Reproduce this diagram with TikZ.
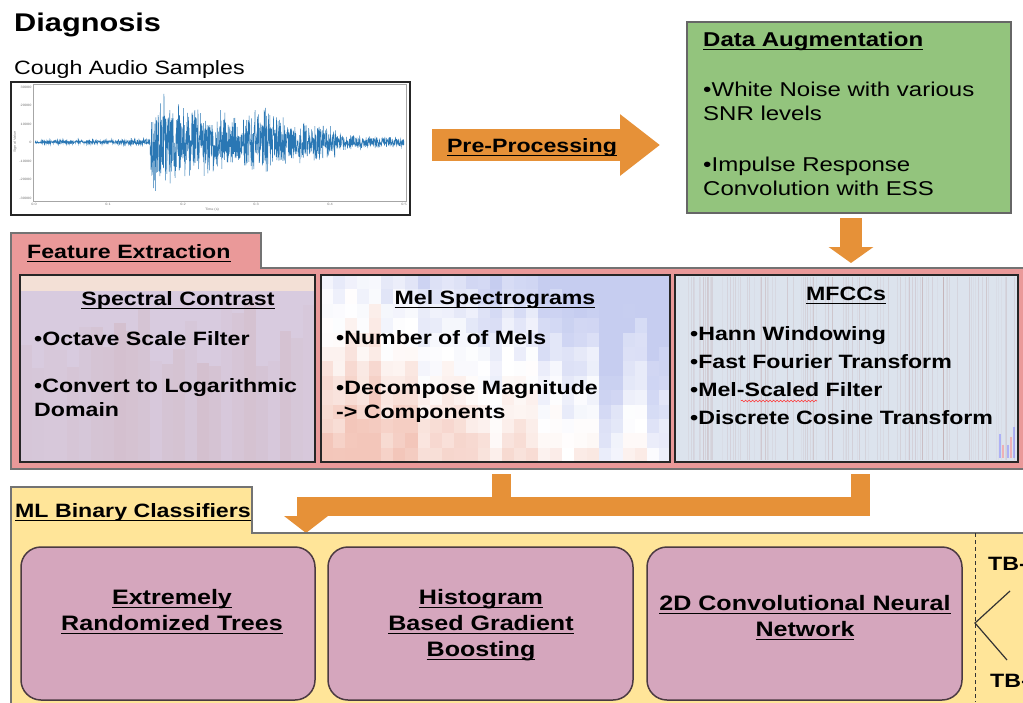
\documentclass[tikz,border=0pt]{standalone}
\usepackage{fontspec}
\setmainfont{Liberation Sans}[FakeStretch=1.2]
\usepackage{xcolor}
\usepackage{tikz}
\usetikzlibrary{arrows.meta,decorations.pathmorphing}

\newsavebox{\ulbox}
\newcommand{\undl}[1]{\sbox{\ulbox}{#1}\rlap{\rule[-3.9pt]{\wd\ulbox}{1.3pt}}\usebox{\ulbox}}

\definecolor{orangeA}{HTML}{E69138}
\definecolor{augGreen}{HTML}{93C47D}
\definecolor{featPink}{HTML}{EA9999}
\definecolor{mlYellow}{HTML}{FFE599}
\definecolor{clsMauve}{HTML}{D5A6BD}
\definecolor{waveBlue}{HTML}{2A77B4}
\definecolor{specBase}{HTML}{D8CBDF}
\definecolor{specBand}{HTML}{F3E0D6}
\definecolor{melBlue}{HTML}{AEB8EA}
\definecolor{melRed}{HTML}{EEAE9C}
\definecolor{mfccBase}{HTML}{DCE3ED}

\begin{document}
\begin{tikzpicture}[
  x=1pt, y=-1pt,
  declare function={wenv(\t)=ifthenelse(\t<150, 2.5+1.5*(\t>118),
      ifthenelse(\t<336, 47*exp(-(\t-150)/130)+8+9*(\t>250)*(\t<285), 9-0.05*(\t-336)));},
  panel/.style={draw=black!55, line width=1.2pt},
  featbox/.style={draw=black!85, line width=1.8pt, inner sep=0pt, minimum height=187pt},
  clsbox/.style={rectangle, rounded corners=20pt, draw=black!65!clsMauve, fill=clsMauve,
    line width=1.5pt, minimum height=153pt},
  fatarr/.style={draw=orangeA, line join=miter},
  ttl/.style={inner sep=0pt, font=\bfseries\fontsize{19.3}{23}\selectfont},
  bul/.style={inner sep=0pt, anchor=north west, align=left, font=\bfseries\fontsize{19.3}{24}\selectfont},
  clstxt/.style={inner sep=0pt, anchor=north, align=center, font=\bfseries\fontsize{20.9}{26}\selectfont},
  tck/.style={inner sep=0.4pt, text=black!55, font=\fontsize{3.2}{4}\selectfont}
]
\useasboundingbox (0,0) rectangle (1023,702);
\clip (0,0) rectangle (1023,702);
\fill[white] (0,0) rectangle (1023,702);

\node[inner sep=0pt, anchor=base west, font=\bfseries\fontsize{25.6}{30}\selectfont] (diag) at (14,31) {Diagnosis};
\node[inner sep=0pt, anchor=base west, font=\fontsize{19.3}{23}\selectfont] (cough) at (14,74) {Cough Audio Samples};

% waveform plot
\node[draw=black!85, line width=2pt, inner sep=0pt, minimum width=399pt, minimum height=133pt] (wave) at (210.5,148.5) {};
\draw[black!35, line width=0.4pt] (33,84) rectangle (406,201);
\pgfmathsetseed{11}
\draw[waveBlue, line width=0.5pt] plot[domain=35:404, samples=1500] (\x, {142+wenv(\x)*rand*(0.4+0.6*rnd)});
\foreach \v/\yy [count=\k] in {30000/87,20000/105,10000/124,0/142,-10000/161,-20000/179,-30000/198}
  \node[tck, anchor=east] (yt\k) at (32,\yy) {\v};
\foreach \v/\xx [count=\k] in {0.0/34,0.1/108,0.2/183,0.3/256,0.4/330,0.5/404}
  \node[tck, anchor=north] (xt\k) at (\xx,202.5) {\v};
\node[tck] (xlab) at (212,210) {Time (s)};
\node[tck, rotate=90] (ylab) at (15,142) {Signal Value};

% pre-processing
\coordinate (ppA) at (432,145);
\coordinate (ppB) at (660,145);
\draw[fatarr, line width=32pt, -{Triangle[width=59pt,length=40pt]}] (ppA) -- (ppB);
\node[ttl, anchor=base] (pp) at (532,152) {\undl{Pre-Processing}};

% augmentation
\node[draw=black!60, line width=1.3pt, fill=augGreen, minimum width=324pt, minimum height=191pt] (aug) at (849,117.5) {};
\node[inner sep=0pt, anchor=base west, font=\bfseries\fontsize{20}{24}\selectfont] (augT) at (703,46) {\undl{Data Augmentation}};
\node[inner sep=0pt, anchor=north west, align=left, font=\fontsize{20}{24}\selectfont] (augL) at (703,81.6)
  {•White Noise with various\\SNR levels\\[27pt]•Impulse Response\\Convolution with ESS};
\coordinate (augA) at (851,218);
\coordinate (augB) at (851,263);
\draw[fatarr, line width=22pt, -{Triangle[width=44pt,length=16pt]}] (augA) -- (augB);

% feature extraction
\draw[panel, fill=featPink] (11,233) -- (261,233) -- (261,268) -- (1040,268) -- (1040,469) -- (11,469) -- cycle;
\node[ttl, anchor=base west] (feT) at (27,258) {\undl{Feature Extraction}};

\fill[specBase] (20,275) rectangle (315,462);
\fill[specBand] (20,275) rectangle (315,291);
\foreach \i in {0,...,24} {
  \pgfmathsetmacro{\op}{0.06+0.22*rnd}
  \pgfmathsetmacro{\ys}{300+70*rnd}
  \fill[pink!60!gray, opacity=\op] (20+11.8*\i,\ys) rectangle (31.8+11.8*\i,462);
}
\foreach \c in {0,...,28} {
  \pgfmathsetmacro{\cr}{rand}
  \foreach \r in {0,...,12} {
    \pgfmathsetmacro{\v}{2.0*\c/28-1.6*\r/12-0.05+0.45*\cr+0.2*rand}
    \pgfmathsetmacro{\pb}{int(max(0,min(70,60*\v)))}
    \pgfmathsetmacro{\pr}{int(max(0,min(70,60*(-\v))))}
    \ifdim\v pt>0pt
      \fill[melBlue!\pb!white] (321+12.07*\c,275+14.4*\r) rectangle ++(12.1,14.5);
    \else
      \fill[melRed!\pr!white] (321+12.07*\c,275+14.4*\r) rectangle ++(12.1,14.5);
    \fi
  }
}
\fill[mfccBase] (675,275) rectangle (1018,462);
\foreach \i in {1,...,110} {
  \pgfmathsetmacro{\xx}{678+338*rnd}
  \pgfmathsetmacro{\op}{0.05+0.15*rnd}
  \draw[black!30!pink, line width=0.6pt, opacity=\op] (\xx,277) -- (\xx,460);
}
\foreach \xx/\cc in {1000/blue,1003/red,1008/blue,1011/red,1014/blue}
  \draw[\cc!50, line width=1.1pt, opacity=0.5] (\xx,425+20*rnd) -- (\xx,458);

\node[featbox, minimum width=295pt] (spec) at (167.5,368.5) {};
\node[featbox, minimum width=349pt] (mel) at (495.5,368.5) {};
\node[featbox, minimum width=343pt] (mfcc) at (846.5,368.5) {};

\node[ttl, anchor=base] (specT) at (178,305) {\undl{Spectral Contrast}};
\node[bul] (specL) at (34,331) {•Octave Scale Filter\\[23pt]•Convert to Logarithmic\\Domain};
\node[ttl, anchor=base] (melT) at (495,304) {\undl{Mel Spectrograms}};
\node[bul] (melL) at (336,330) {•Number of of Mels\\[26pt]•Decompose Magnitude\\-> Components};
\node[ttl, anchor=base] (mfccT) at (846,300) {\undl{MFCCs}};
\node[bul, font=\bfseries\fontsize{19.3}{28}\selectfont] (mfccL) at (690,326)
  {•Hann Windowing\\•Fast Fourier Transform\\•Mel-Scaled Filter\\•Discrete Cosine Transform};
\draw[red!80, line width=0.6pt, decorate, decoration={snake, segment length=3.5pt, amplitude=0.9pt}] (741,401) -- (817,401);

% to classifiers
\coordinate (s1) at (306,533);
\coordinate (s2) at (501,474);
\coordinate (s3) at (860,474);
\draw[fatarr, line width=19pt, -{Triangle[width=43pt,length=17pt]}] (s3) -- (860,506) -- (306,506) -- (s1);
\draw[fatarr, line width=19pt] (s2) -- (501,506);

% classifiers
\draw[panel, fill=mlYellow] (11,487) -- (252,487) -- (252,533) -- (1040,533) -- (1040,712) -- (11,712) -- cycle;
\node[ttl, anchor=base west] (mlT) at (15,517) {\undl{ML Binary Classifiers}};

\node[clsbox, minimum width=294pt] (ert) at (168,623.5) {};
\node[clsbox, minimum width=305pt] (hgb) at (480.5,623.5) {};
\node[clsbox, minimum width=315pt] (cnn) at (804.5,623.5) {};
\node[clstxt] (ertT) at (172,589) {\undl{Extremely}\\\undl{Randomized Trees}};
\node[clstxt] (hgbT) at (481,589) {\undl{Histogram}\\\undl{Based Gradient}\\\undl{Boosting}};
\node[clstxt] (cnnT) at (805,595) {\undl{2D Convolutional Neural}\\\undl{Network}};

\draw[black!80, line width=1pt, dash pattern=on 4pt off 3pt] (975,533) -- (975,702);
\coordinate (tv) at (975,623);
\coordinate (tu) at (1010,591);
\coordinate (td) at (1007,660);
\draw[black!80, line width=1.2pt] (tu) -- (tv) -- (td);
\node[ttl, anchor=base west] (tbp) at (988,570) {TB-};
\node[ttl, anchor=base west] (tbn) at (990,687) {TB-};
\end{tikzpicture}
\end{document}
